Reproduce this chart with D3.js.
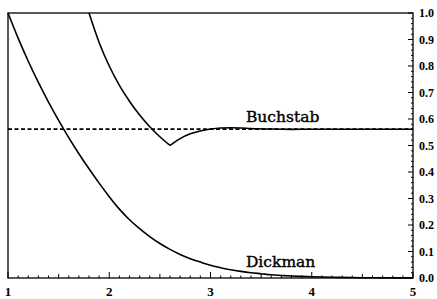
<!DOCTYPE html>
<html>
<head>
<meta charset="utf-8">
<script src="https://cdn.jsdelivr.net/npm/d3@7"></script>
<style>
  body { margin: 0; background: #fff; }
  text { font-family: "Liberation Serif", "DejaVu Serif", serif; fill: #000; }
  text.curve-label { font-family: "DejaVu Serif", serif; }
</style>
</head>
<body>
<script>
const width = 437;
const height = 299;

// Dickman rho(u)
const dickmanU = [1.0, 1.1, 1.2, 1.3, 1.4, 1.5, 1.6, 1.7, 1.8, 1.9, 2.0, 2.1, 2.2, 2.3, 2.4, 2.5, 2.6, 2.7, 2.8, 2.9, 3.0, 3.1, 3.2, 3.3, 3.4, 3.5, 3.6, 3.7, 3.8, 3.9, 4.0, 4.25, 4.5, 4.75, 5.0];
const dickmanV = [1.0, 0.905, 0.818, 0.738, 0.664, 0.595, 0.530, 0.469, 0.412, 0.358, 0.307, 0.260, 0.220, 0.186, 0.156, 0.130, 0.108, 0.089, 0.073, 0.060, 0.048, 0.039, 0.031, 0.025, 0.020, 0.016, 0.012, 0.0097, 0.0075, 0.006, 0.0048, 0.0025, 0.0011, 0.0006, 0.0004];

// Buchstab curve
const buchU = [1.8, 1.9, 2.0, 2.1, 2.2, 2.3, 2.4, 2.5, 2.6, 2.65, 2.7, 2.8, 2.9, 3.0, 3.1, 3.2, 3.3, 3.4, 3.6, 3.8, 4.0, 4.5, 5.0];
const buchV = [1.0, 0.889, 0.8, 0.727, 0.667, 0.615, 0.571, 0.533, 0.5, 0.514, 0.526, 0.544, 0.555, 0.562, 0.566, 0.567, 0.566, 0.564, 0.562, 0.561, 0.5615, 0.5615, 0.5615];

const limitValue = 0.5615;

const xTicks = [1, 2, 3, 4, 5];
const yTicks = [0.0, 0.1, 0.2, 0.3, 0.4, 0.5, 0.6, 0.7, 0.8, 0.9, 1.0];

const margin = {top: 13, right: 24, bottom: 21, left: 8};

const svg = d3.select('body').append('svg')
    .attr('width', width)
    .attr('height', height);

const x = d3.scaleLinear().domain([1, 5]).range([margin.left, width - margin.right]);
const y = d3.scaleLinear().domain([0, 1]).range([height - margin.bottom, margin.top]);

// frame
svg.append('rect')
    .attr('x', x(1)).attr('y', y(1))
    .attr('width', x(5) - x(1)).attr('height', y(0) - y(1))
    .attr('fill', 'none').attr('stroke', '#000').attr('stroke-width', 1.3);

// bottom axis: minor ticks every 0.1, taller at halves
const xAxis = svg.append('g').attr('transform', `translate(0,${y(0)})`);
xAxis.selectAll('line')
    .data(d3.range(10, 51).map(d => d / 10))
    .join('line')
    .attr('x1', d => x(d)).attr('x2', d => x(d))
    .attr('y1', 0)
    .attr('y2', d => Math.round(d * 10) % 10 === 0 ? -6 : (Math.round(d * 10) % 5 === 0 ? -4 : -2.5))
    .attr('stroke', '#000').attr('stroke-width', 1);
xAxis.selectAll('text')
    .data(xTicks)
    .join('text')
    .attr('x', d => x(d)).attr('y', 18)
    .attr('text-anchor', 'middle')
    .attr('font-size', 13).attr('font-weight', 'bold')
    .text(d => d);

// right axis
const yAxis = svg.append('g').attr('transform', `translate(${x(5)},0)`);
yAxis.selectAll('line')
    .data(d3.range(0, 101, 2).map(d => d / 100))
    .join('line')
    .attr('y1', d => y(d)).attr('y2', d => y(d))
    .attr('x1', 0)
    .attr('x2', d => Math.round(d * 100) % 10 === 0 ? -5 : -2)
    .attr('stroke', '#000').attr('stroke-width', 1);
yAxis.selectAll('text')
    .data(yTicks)
    .join('text')
    .attr('x', 6).attr('y', d => y(d) + 4)
    .attr('font-size', 12).attr('font-weight', 'bold')
    .text(d => d.toFixed(1));

// limit line
svg.append('line')
    .attr('x1', x(1)).attr('x2', x(5))
    .attr('y1', y(limitValue)).attr('y2', y(limitValue))
    .attr('stroke', '#000').attr('stroke-width', 1.7)
    .attr('stroke-dasharray', '4,2.5');

const line = d3.line()
    .x(d => x(d[0]))
    .y(d => y(d[1]))
    .curve(d3.curveMonotoneX);

svg.append('path')
    .datum(d3.zip(dickmanU, dickmanV))
    .attr('d', line)
    .attr('fill', 'none').attr('stroke', '#000').attr('stroke-width', 1.6);

// cusp at the minimum, so draw the two pieces separately
const cut = buchU.indexOf(2.6);
svg.append('path')
    .datum(d3.zip(buchU.slice(0, cut + 1), buchV.slice(0, cut + 1)))
    .attr('d', line)
    .attr('fill', 'none').attr('stroke', '#000').attr('stroke-width', 1.6);
svg.append('path')
    .datum(d3.zip(buchU.slice(cut), buchV.slice(cut)))
    .attr('d', line)
    .attr('fill', 'none').attr('stroke', '#000').attr('stroke-width', 1.6);

// curve labels
svg.append('text')
    .attr('class', 'curve-label')
    .attr('x', x(3.35)).attr('y', y(0.588))
    .attr('font-size', 15.5)
    .attr('stroke', '#000').attr('stroke-width', 0.4)
    .text('Buchstab');
svg.append('text')
    .attr('class', 'curve-label')
    .attr('x', x(3.35)).attr('y', y(0.04))
    .attr('font-size', 15.5)
    .attr('stroke', '#000').attr('stroke-width', 0.4)
    .text('Dickman');
</script>
</body>
</html>
